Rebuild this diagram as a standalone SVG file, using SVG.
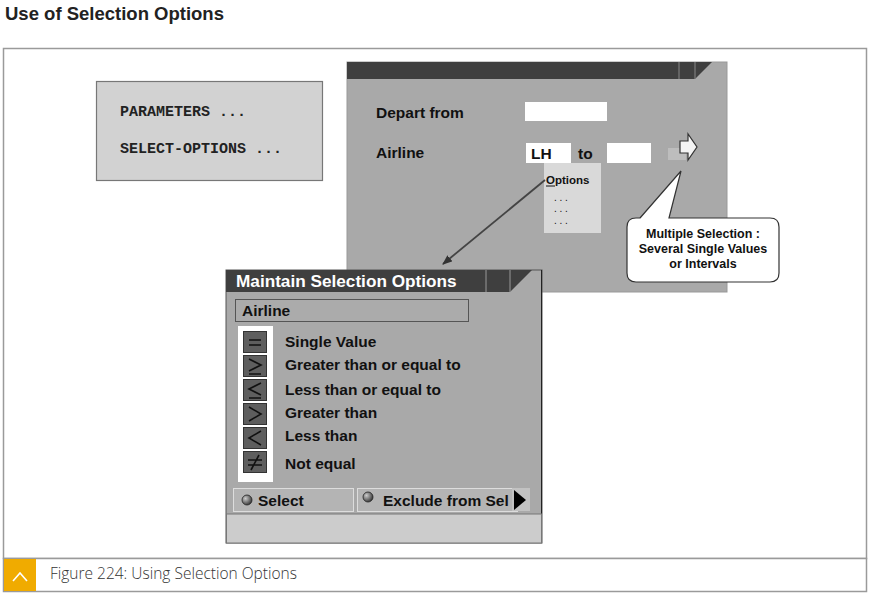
<svg xmlns="http://www.w3.org/2000/svg" width="870" height="594" viewBox="0 0 870 594">
<style>
.t{font-family:"Liberation Sans",Arial,sans-serif;font-weight:bold;fill:#111}
.m{font-family:"Liberation Mono","Courier New",monospace;font-weight:bold;fill:#222;font-size:15px}
.lbl{font-size:15.5px}
.ic{fill:#5e5e5e;stroke:#333;stroke-width:1}
.sym{stroke:#111;stroke-width:1.6;fill:none}
.white{fill:#fff}
.dots{font-family:"Liberation Sans",Arial,sans-serif;font-size:10px;fill:#111}
</style>
<defs>
<marker id="ah" markerWidth="10" markerHeight="8" refX="9" refY="4" orient="auto" markerUnits="userSpaceOnUse">
<path d="M0,0 L10,4 L0,8 z" fill="#333"/>
</marker>
<radialGradient id="rb" cx="0.35" cy="0.35" r="0.7">
<stop offset="0" stop-color="#ccc"/><stop offset="1" stop-color="#333"/>
</radialGradient>
</defs>
<rect width="870" height="594" fill="#fff"/>
<text x="5" y="20" font-family="'Liberation Sans',Arial,sans-serif" font-weight="bold" font-size="18.5" fill="#222">Use of Selection Options</text>
<rect x="3.5" y="48.5" width="863" height="510" fill="#fff" stroke="#9a9a9a" stroke-width="1.5"/>

<g id="code">
<rect x="96.5" y="81.5" width="226" height="99" fill="#d2d2d2" stroke="#777" stroke-width="1.2"/>
<text class="m" x="120" y="116">PARAMETERS ...</text>
<text class="m" x="120" y="153">SELECT-OPTIONS ...</text>
</g>

<g id="screen">
<rect x="347" y="62" width="380" height="230" fill="#a9a9a9" stroke="#999" stroke-width="1"/>
<polygon points="347,62 712,62 695,79 347,79" fill="#3f3f3f"/>
<line x1="679" y1="62" x2="679" y2="79" stroke="#888" stroke-width="1"/>
<line x1="695" y1="62" x2="695" y2="79" stroke="#888" stroke-width="1"/>
<text class="t lbl" x="376" y="118">Depart from</text>
<rect class="white" x="525" y="102" width="82" height="19"/>
<text class="t lbl" x="376" y="158">Airline</text>
<rect class="white" x="526" y="143" width="45" height="20"/>
<text class="t lbl" x="531" y="159">LH</text>
<text class="t lbl" x="578" y="159">to</text>
<rect class="white" x="607" y="143" width="44" height="20"/>
<rect x="668" y="148" width="18" height="12" fill="#bdbdbd"/>
<path d="M680,141 L688,141 L688,134 L697,147 L688,160 L688,153 L680,153 Z" fill="#f4f4f4" stroke="#333" stroke-width="1.2"/>
</g>

<g id="options">
<rect x="544" y="163" width="57" height="70" fill="#d9d9d9"/>
<text class="t" x="546" y="184" font-size="11.5">Options</text>
<line x1="546" y1="186" x2="555" y2="186" stroke="#111" stroke-width="1"/>
<text class="dots" x="554" y="201">. . .</text>
<text class="dots" x="554" y="212">. . .</text>
<text class="dots" x="554" y="224">. . .</text>
</g>

<g id="callout">
<path d="M640,218 L681,171 L669,218 L770,218 Q779,218 779,227 L779,273 Q779,282 770,282 L636,282 Q627,282 627,273 L627,227 Q627,218 636,218 Z" fill="#fff" stroke="#333" stroke-width="1.2"/>
<text class="t" x="703" y="238" font-size="12.5" text-anchor="middle">Multiple Selection :</text>
<text class="t" x="703" y="253" font-size="12.5" text-anchor="middle">Several Single Values</text>
<text class="t" x="703" y="268" font-size="12.5" text-anchor="middle">or Intervals</text>
</g>

<g id="connectors">
<line x1="545" y1="180" x2="443" y2="264" stroke="#444" stroke-width="1.8" marker-end="url(#ah)"/>
</g>

<g id="dialog">
<rect x="226" y="270" width="316" height="273" fill="#a9a9a9" stroke="#555" stroke-width="1"/>
<polygon points="226,270 532,270 510,292 226,292" fill="#3f3f3f"/>
<line x1="486" y1="270" x2="486" y2="292" stroke="#999" stroke-width="1"/>
<line x1="510" y1="270" x2="510" y2="292" stroke="#999" stroke-width="1"/>
<line x1="541.5" y1="270" x2="541.5" y2="543" stroke="#222" stroke-width="1"/>
<text x="236" y="287" font-family="'Liberation Sans',Arial,sans-serif" font-weight="bold" font-size="17.2" fill="#fff">Maintain Selection Options</text>
<rect x="235.5" y="299.5" width="233" height="22" fill="#ababab" stroke="#555" stroke-width="1"/>
<text class="t lbl" x="242" y="316">Airline</text>
<rect class="white" x="238" y="326" width="35" height="156"/>
<rect class="ic" x="243.5" y="331.5" width="23" height="21"/>
<rect class="ic" x="243.5" y="355.5" width="23" height="21"/>
<rect class="ic" x="243.5" y="379.5" width="23" height="21"/>
<rect class="ic" x="243.5" y="403.5" width="23" height="21"/>
<rect class="ic" x="243.5" y="427.5" width="23" height="21"/>
<rect class="ic" x="243.5" y="451.5" width="23" height="21"/>
<path class="sym" d="M249,340 H261 M249,345 H261"/>
<path class="sym" d="M249,359 L261,365 L249,371 M249,374 H261"/>
<path class="sym" d="M261,383 L249,389 L261,395 M249,398 H261"/>
<path class="sym" d="M249,407 L261,414 L249,421"/>
<path class="sym" d="M261,431 L249,438 L261,445"/>
<path class="sym" d="M248,460 H262 M248,465 H262 M259,455 L251,470"/>
<text class="t lbl" x="285" y="347">Single Value</text>
<text class="t lbl" x="285" y="370">Greater than or equal to</text>
<text class="t lbl" x="285" y="395">Less than or equal to</text>
<text class="t lbl" x="285" y="418">Greater than</text>
<text class="t lbl" x="285" y="441">Less than</text>
<text class="t lbl" x="285" y="469">Not equal</text>
<rect x="233.5" y="488.5" width="120" height="23" fill="#b4b4b4" stroke="#ddd" stroke-width="1"/>
<circle cx="247" cy="500" r="5" fill="url(#rb)" stroke="#222" stroke-width="0.8"/>
<text class="t lbl" x="258" y="506">Select</text>
<rect x="357.5" y="488.5" width="160" height="23" fill="#b4b4b4" stroke="#ddd" stroke-width="1"/>
<rect x="512" y="488" width="18" height="23" fill="#c2c2c2"/>
<circle cx="368" cy="497" r="5" fill="url(#rb)" stroke="#222" stroke-width="0.8"/>
<text class="t lbl" x="383" y="506">Exclude from Sel</text>
<polygon points="514,490 526,500 514,510" fill="#000"/>
<rect x="226.5" y="514" width="315" height="29" fill="#cccccc" stroke="#777" stroke-width="1"/>
</g>

<g id="caption">
<rect x="3.5" y="558.5" width="863" height="33" fill="#fff" stroke="#9a9a9a" stroke-width="1.5"/>
<rect x="4" y="559" width="32" height="32" fill="#f0ab00"/>
<path d="M13,581 L20,573 L27,581" fill="none" stroke="#fff" stroke-width="1.6"/>
<text x="50" y="579" font-family="'Open Sans','Liberation Sans',sans-serif" font-size="15.5" fill="#333" font-weight="300">Figure 224: Using Selection Options</text>
</g>
</svg>
